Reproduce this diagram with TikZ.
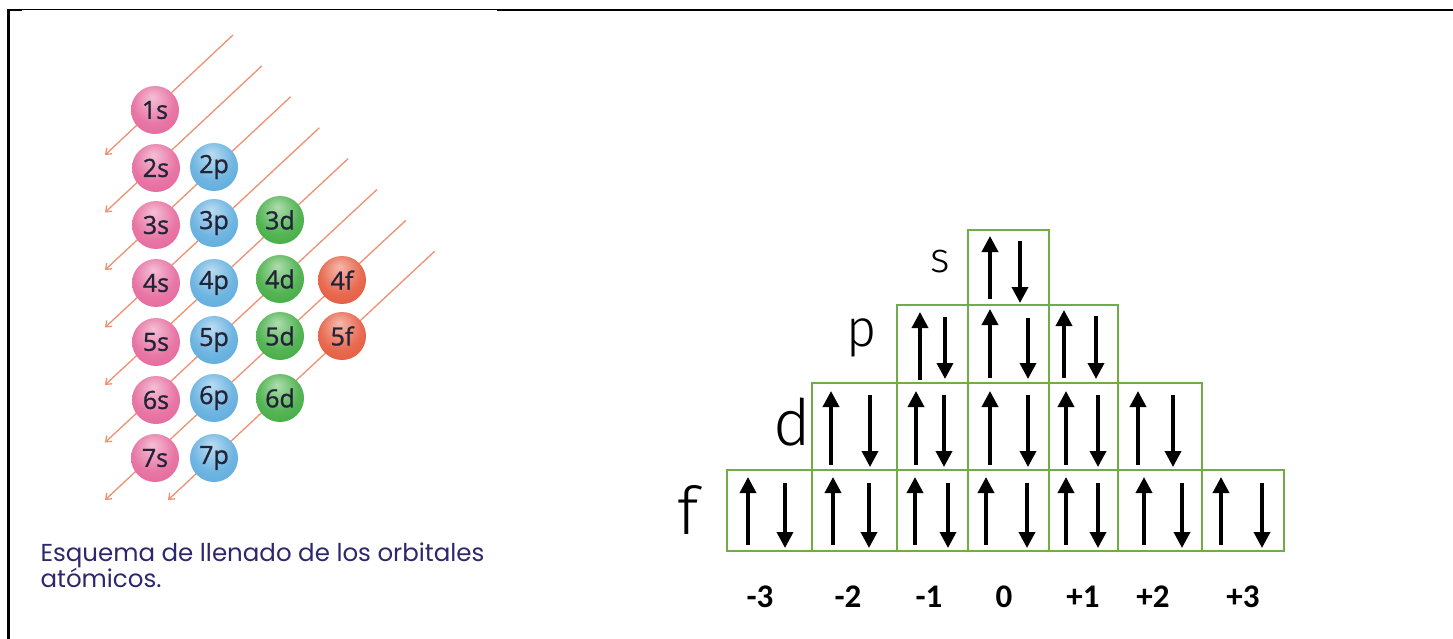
\documentclass[tikz,border=0pt]{standalone}
\usepackage{fontspec}
\setmainfont{Carlito}
\newfontfamily\capfont{Poppins}
\newfontfamily\ballfont{Open Sans}[FakeBold=1]
\IfFontExistsTF{Fira Sans Light}{\newfontfamily\handfont{Fira Sans Light}}{\newfontfamily\handfont{DejaVu Sans}}
\usetikzlibrary{arrows.meta}
\definecolor{boxgreen}{RGB}{112,173,71}
\definecolor{diag}{RGB}{238,145,115}
\definecolor{sball}{RGB}{228,95,150}
\definecolor{pball}{RGB}{85,168,220}
\definecolor{dball}{RGB}{55,168,55}
\definecolor{fball}{RGB}{228,80,50}
\definecolor{captext}{RGB}{45,40,110}
\definecolor{balltext}{RGB}{35,35,55}
\newcommand\mkglossy[1]{\pgfdeclareradialshading{glossy#1}{\pgfpoint{-3bp}{14bp}}{color(0bp)=(#1!40!white); color(22bp)=(#1!85!white); color(42bp)=(#1); color(50bp)=(#1!85!black)}}
\mkglossy{sball}\mkglossy{pball}\mkglossy{dball}\mkglossy{fball}
\tikzset{
  orb/.style={circle, inner sep=0pt, minimum size=48pt, shading=glossy#1, text=balltext,
    font=\ballfont\fontsize{25}{25}\selectfont},
  diagarrow/.style={draw=diag, line width=1.3pt, -{Straight Barb[length=5pt,width=8pt]}},
  cell/.style={draw=boxgreen, line width=2.4pt},
  upar/.style={line width=3.6pt, -{Triangle[width=16pt,length=16pt]}},
  mlabel/.style={font=\bfseries\fontsize{33}{33}\selectfont, anchor=center},
  hand/.style={font=\handfont\fontsize{#1}{#1}\selectfont, anchor=center},
  captxt/.style={font=\capfont\fontsize{24.5}{24.5}\selectfont, text=captext, anchor=base west}
}
\begin{document}
\begin{tikzpicture}[x=1pt,y=-1pt]
\useasboundingbox (0,0) rectangle (1453,639);
\fill[white] (0,0) rectangle (1453,639);
% frame
\draw[line width=2.2pt] (7,10) -- (22,10);
\draw[line width=1pt] (22,10) -- (497,10);
\draw[line width=2.2pt] (497,10) -- (1453,10);
\draw[line width=2.4pt] (8.5,9) -- (8.5,639);
% diagonal arrows
\foreach \k in {0,...,6}{
  \coordinate (dt\k) at ({233+28.8*\k},{35+30.9*\k});
  \coordinate (de\k) at (105,{155+57.5*\k});
  \draw[diagarrow] (dt\k) -- (de\k);
}
\coordinate (dt7) at (434.6,251.3);
\coordinate (de7) at (168,500);
\draw[diagarrow] (dt7) -- (de7);
% orbitals
\node[orb=sball] (o1s) at (155,110) {1s};
\node[orb=sball] (o2s) at (156,168) {2s};
\node[orb=pball] (o2p) at (214,167) {2p};
\node[orb=sball] (o3s) at (156,225) {3s};
\node[orb=pball] (o3p) at (214,223) {3p};
\node[orb=dball] (o3d) at (280,220) {3d};
\node[orb=sball] (o4s) at (156,283) {4s};
\node[orb=pball] (o4p) at (214,283) {4p};
\node[orb=dball] (o4d) at (280,279) {4d};
\node[orb=fball] (o4f) at (342,280) {4f};
\node[orb=sball] (o5s) at (156,342) {5s};
\node[orb=pball] (o5p) at (214,340) {5p};
\node[orb=dball] (o5d) at (280,336) {5d};
\node[orb=fball] (o5f) at (342,336) {5f};
\node[orb=sball] (o6s) at (156,400) {6s};
\node[orb=pball] (o6p) at (214,398) {6p};
\node[orb=dball] (o6d) at (280,398) {6d};
\node[orb=sball] (o7s) at (155,458) {7s};
\node[orb=pball] (o7p) at (214,458) {7p};
% caption
\node[captxt] (cap1) at (37,561) {Esquema de llenado de los orbitales};
\node[captxt] (cap2) at (37,587) {atómicos.};
% boxes
\draw[cell] (968,230) rectangle (1049,305);
\foreach \a/\b in {897/968,968/1049,1049/1118}{\draw[cell] (\a,305) rectangle (\b,383);}
\foreach \a/\b in {812/897,897/968,968/1049,1049/1118,1118/1202}{\draw[cell] (\a,383) rectangle (\b,470);}
\foreach \a/\b in {727/812,812/897,897/968,968/1049,1049/1118,1118/1202,1202/1284}{\draw[cell] (\a,470) rectangle (\b,551);}
% spin arrows
\draw[upar] (990,299) -- (990,236);
\draw[upar] (1020,241) -- (1020,303);
\draw[upar] (920,380) -- (920,312);
\draw[upar] (945,317) -- (945,379);
\draw[upar] (990,378) -- (990,309);
\draw[upar] (1028,318) -- (1028,379);
\draw[upar] (1064,378) -- (1064,310);
\draw[upar] (1096,316) -- (1096,379);
\foreach \u/\d in {831/870,916/944,990/1028,1066/1098,1138/1173}{
  \draw[upar] (\u,465) -- (\u,391);
  \draw[upar] (\d,395) -- (\d,467);
}
\foreach \u/\d in {748/785,833/869,915/948,986/1027,1066/1098,1144/1182,1221/1262}{
  \draw[upar] (\u,545) -- (\u,477);
  \draw[upar] (\d,483) -- (\d,548);
}
% handwritten labels
\node[hand=42] (ls) at (940,262) {s};
\node[hand=52] (lp) at (862,338) {p};
\node[hand=64] (ld) at (792,422) {d};
\node[hand=66] (lf) at (688,510) {f};
% m_l labels
\node[mlabel] (m1) at (760,597) {-3};
\node[mlabel] (m2) at (848,597) {-2};
\node[mlabel] (m3) at (929,597) {-1};
\node[mlabel] (m4) at (1004,597) {0};
\node[mlabel] (m5) at (1083,597) {+1};
\node[mlabel] (m6) at (1153,597) {+2};
\node[mlabel] (m7) at (1243,597) {+3};
\end{tikzpicture}
\end{document}
